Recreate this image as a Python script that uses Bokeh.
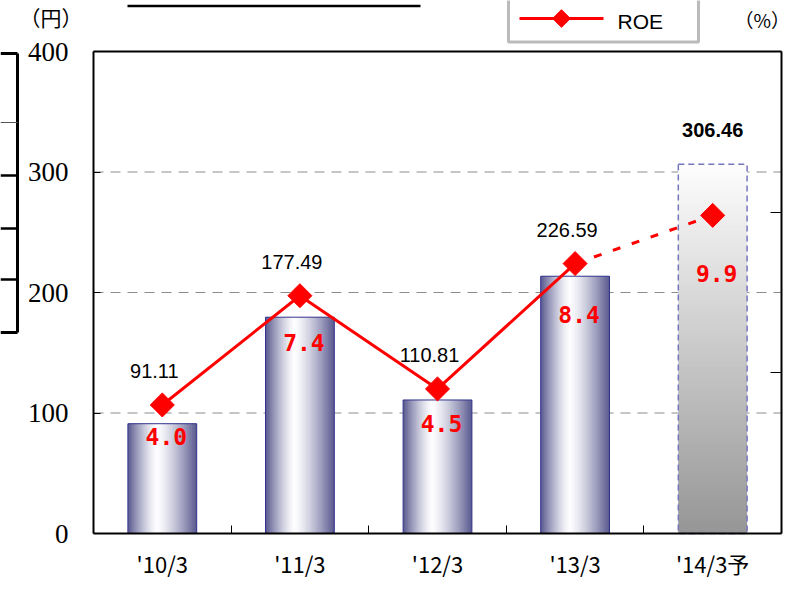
import numpy as np
from bokeh.plotting import figure
from bokeh.models import Range1d, LinearAxis, FixedTicker, ColumnDataSource
from bokeh.embed import file_html
from bokeh.resources import INLINE
from bokeh.core.properties import value

# ---------------- data ----------------
categories = ["'10/3", "'11/3", "'12/3", "'13/3", "'14/3予"]
eps_bar = [91.11, 179.5, 110.81, 213.5, 306.46]          # bar heights as drawn (円)
eps_text = ["91.11", "177.49", "110.81", "226.59", "306.46"]
roe = [4.0, 7.4, 4.5, 8.4, 9.9]                           # ROE (%)
roe_text = ["4.0", "7.4", "4.5", "8.4", "9.9"]
forecast = [False, False, False, False, True]
left_ticks = [0, 100, 200, 300, 400]
right_ticks = [0, 5, 10, 15]
grid_vals = [100, 200, 300]
legend_label = "ROE"
unit_left = "（円）"
unit_right = "（%）"

# ---------------- layout (pixels of the canvas) ----------------
W, H = 791, 580
FL, FR, FT, FB = 93, 781, 51, 533          # plotting box edges
N = len(categories)
Y_MAX, R_MAX = 400, 15
px_x = (FR - FL) / N
px_left = (FB - FT) / Y_MAX
px_right = (FB - FT) / R_MAX
x_rng = Range1d(-FL / px_x, N + (W - FR) / px_x)
y_rng = Range1d(-(H - FB) / px_left, Y_MAX + FT / px_left)
r_rng = Range1d(-(H - FB) / px_right, R_MAX + FT / px_right)


def dx(px):   # canvas x pixel -> data x
    return x_rng.start + px / px_x


def dy(py):   # canvas y pixel -> left-axis data y
    return y_rng.end - py / px_left


p = figure(width=W, height=H, output_backend="svg", toolbar_location=None,
           x_range=x_rng, y_range=y_rng, min_border=0,
           background_fill_color="white", border_fill_color="white")
p.extra_y_ranges = {"roe": r_rng}
p.outline_line_color = None
p.xgrid.visible = False
p.ygrid.visible = False

x_c = np.arange(N) + 0.5

# ---------------- axes (fixed at the box edges) ----------------
p.xaxis.fixed_location = 0
p.xaxis.bounds = (0, N)
p.xaxis.ticker = FixedTicker(ticks=list(x_c), minor_ticks=list(range(1, N)))
p.xaxis.major_label_overrides = {float(x): c for x, c in zip(x_c, categories)}
p.xaxis.major_tick_line_color = None
p.xaxis.minor_tick_line_color = "black"
p.xaxis.minor_tick_in = 8
p.xaxis.minor_tick_out = 0
p.xaxis.axis_line_width = 2
p.xaxis.axis_line_color = "black"
p.xaxis.major_label_text_font = "Noto Sans CJK JP"
p.xaxis.major_label_text_font_size = "22px"
p.xaxis.major_label_text_color = "black"
p.xaxis.major_label_standoff = 7

p.yaxis.fixed_location = 0
p.yaxis.bounds = (0, Y_MAX)
p.yaxis.ticker = FixedTicker(ticks=left_ticks)
p.yaxis.major_tick_in = 7
p.yaxis.major_tick_out = 0
p.yaxis.minor_tick_line_color = None
p.yaxis.axis_line_width = 2
p.yaxis.axis_line_color = "black"
p.yaxis.major_label_text_font = "Liberation Serif"
p.yaxis.major_label_text_font_size = "27px"
p.yaxis.major_label_text_color = "black"
p.yaxis.major_label_standoff = 25

rax = LinearAxis(y_range_name="roe", fixed_location=N, bounds=(0, R_MAX),
                 ticker=FixedTicker(ticks=[], minor_ticks=right_ticks),
                 minor_tick_in=11, minor_tick_out=0,
                 minor_tick_line_color="black", major_tick_line_color=None,
                 axis_line_width=2, axis_line_color="black")
p.add_layout(rax, "right")

# grid lines and top border
p.segment(x0=[0] * len(grid_vals), x1=[N] * len(grid_vals), y0=grid_vals,
          y1=grid_vals, line_color="#8c8c8c", line_width=1, line_dash="10 7")
p.segment(x0=[0], x1=[N], y0=[Y_MAX], y1=[Y_MAX], line_color="black",
          line_width=2)

# ---------------- partly visible table / title underline ----------------
p.segment(x0=[dx(0), dx(0)], x1=[dx(17), dx(17)], y0=[dy(53), dy(332)],
          y1=[dy(53), dy(332)], line_color="black", line_width=3)
p.segment(x0=[dx(17)], x1=[dx(17)], y0=[dy(53)], y1=[dy(332)],
          line_color="black", line_width=3)
p.segment(x0=[dx(0)] * 3, x1=[dx(17)] * 3, y0=[dy(175), dy(228), dy(279)],
          y1=[dy(175), dy(228), dy(279)], line_color="black", line_width=2.5)
p.segment(x0=[dx(0)], x1=[dx(17)], y0=[dy(122)], y1=[dy(122)],
          line_color="#555555", line_width=1.2)
p.segment(x0=[dx(127)], x1=[dx(420)], y0=[dy(5.5)], y1=[dy(5.5)],
          line_color="black", line_width=2.5)

# ---------------- bars (gradient strips) ----------------
bw = 0.5
n = 44
edge = np.array([88, 88, 142])
white = np.array([253, 253, 255])
peak = 0.42
L, R, T, B, C = [], [], [], [], []
for i, (h, fc) in enumerate(zip(eps_bar, forecast)):
    if not fc:
        w = bw / n
        for k in range(n):
            t = (k + 0.5) / n
            d = (peak - t) / peak if t < peak else (t - peak) / (1 - peak)
            m = d ** 1.35
            col = white * (1 - m) + edge * m
            l = x_c[i] - bw / 2 + k * w
            L.append(l); R.append(min(l + w * 1.6, x_c[i] + bw / 2))
            B.append(0); T.append(h)
            C.append("#%02x%02x%02x" % tuple(int(round(v)) for v in col))
    else:
        m_ = 90
        dh = h / m_
        for k in range(m_):
            f = (k + 0.5) / m_
            g = 150 + (254 - 150) * f
            b0 = k * dh
            L.append(x_c[i] - bw / 2); R.append(x_c[i] + bw / 2)
            B.append(b0); T.append(min(b0 + dh * 1.6, h))
            C.append("#%02x%02x%02x" % (int(g), int(g), int(g)))

strips = ColumnDataSource(dict(left=L, right=R, bottom=B, top=T, color=C))
p.quad(left="left", right="right", bottom="bottom", top="top",
       fill_color="color", line_color=None, source=strips)

solid_idx = [i for i, f in enumerate(forecast) if not f]
fc_idx = [i for i, f in enumerate(forecast) if f]
p.quad(left=[x_c[i] - bw / 2 for i in solid_idx],
       right=[x_c[i] + bw / 2 for i in solid_idx],
       bottom=[0] * len(solid_idx), top=[eps_bar[i] for i in solid_idx],
       fill_color=None, line_color="#33338f", line_width=1)
p.quad(left=[x_c[i] - bw / 2 for i in fc_idx],
       right=[x_c[i] + bw / 2 for i in fc_idx],
       bottom=[0] * len(fc_idx), top=[eps_bar[i] for i in fc_idx],
       fill_color=None, line_color="#7676bd", line_width=1.5, line_dash="6 4")

# ---------------- ROE line ----------------
last_actual = solid_idx[-1]
p.line(x=list(x_c[:last_actual + 1]), y=roe[:last_actual + 1],
       y_range_name="roe", line_color="#ff0000", line_width=3)
p.line(x=list(x_c[last_actual:]), y=roe[last_actual:], y_range_name="roe",
       line_color="#ff0000", line_width=3, line_dash="8 12")
p.scatter(x=list(x_c), y=roe, y_range_name="roe", marker="square",
          angle=np.pi / 4, size=17, fill_color="#ff0000", line_color="#ff0000")

# ---------------- value labels ----------------
# EPS label: 34 px above the higher of diamond / bar top
eps_y = []
for e, r in zip(eps_bar, roe):
    top_px = min(FB - e * px_left, FB - r * px_right)
    eps_y.append(dy(top_px - 34))
eps_dx = [-8 / px_x if not f else 0 for f in forecast]
p.text(x=[x_c[i] + eps_dx[i] for i in solid_idx], y=[eps_y[i] for i in solid_idx],
       text=[eps_text[i] for i in solid_idx],
       text_font=value("Liberation Sans"),
       text_font_size="20px", text_align="center", text_baseline="middle",
       text_color="black")
p.text(x=[x_c[i] + eps_dx[i] for i in fc_idx], y=[eps_y[i] for i in fc_idx],
       text=[eps_text[i] for i in fc_idx],
       text_font=value("Liberation Sans"),
       text_font_size="20px", text_font_style="bold", text_align="center",
       text_baseline="middle", text_color="black")

roe_y = [r - (32 + (r - roe[0]) * 4.4) / px_right for r in roe]
p.text(x=list(x_c + 4 / px_x), y=roe_y, text=roe_text,
       y_range_name="roe", text_font=value("DejaVu Sans Mono"),
       text_font_size="23px", text_font_style="bold", text_align="center",
       text_baseline="middle", text_color="#ff0000")

# ---------------- legend (box partly above the page) ----------------
p.quad(left=[dx(508)], right=[dx(698)], top=[dy(-10)], bottom=[dy(41.5)],
       fill_color="white", line_color="#bbbbbb", line_width=3)
p.segment(x0=[dx(519)], x1=[dx(603)], y0=[dy(18)], y1=[dy(18)],
          line_color="#ff0000", line_width=3)
p.scatter(x=[dx(561)], y=[dy(18)], marker="square", angle=np.pi / 4,
          size=12.5, fill_color="#ff0000", line_color="#ff0000")
p.text(x=[dx(617)], y=[dy(21)], text=[legend_label],
       text_font=value("Liberation Sans"), text_font_size="21px",
       text_align="left", text_baseline="middle", text_color="black")

# ---------------- unit labels ----------------
p.text(x=[dx(19)], y=[dy(16)], text=[unit_left],
       text_font=value("Noto Sans CJK JP"), text_font_size="21px",
       text_align="left", text_baseline="middle", text_color="black")
p.text(x=[dx(734)], y=[dy(19)], text=[unit_right],
       text_font=value("Noto Sans CJK JP"), text_font_size="19px",
       text_align="left", text_baseline="middle", text_color="black")

open("out.html", "w").write(file_html(p, INLINE))
